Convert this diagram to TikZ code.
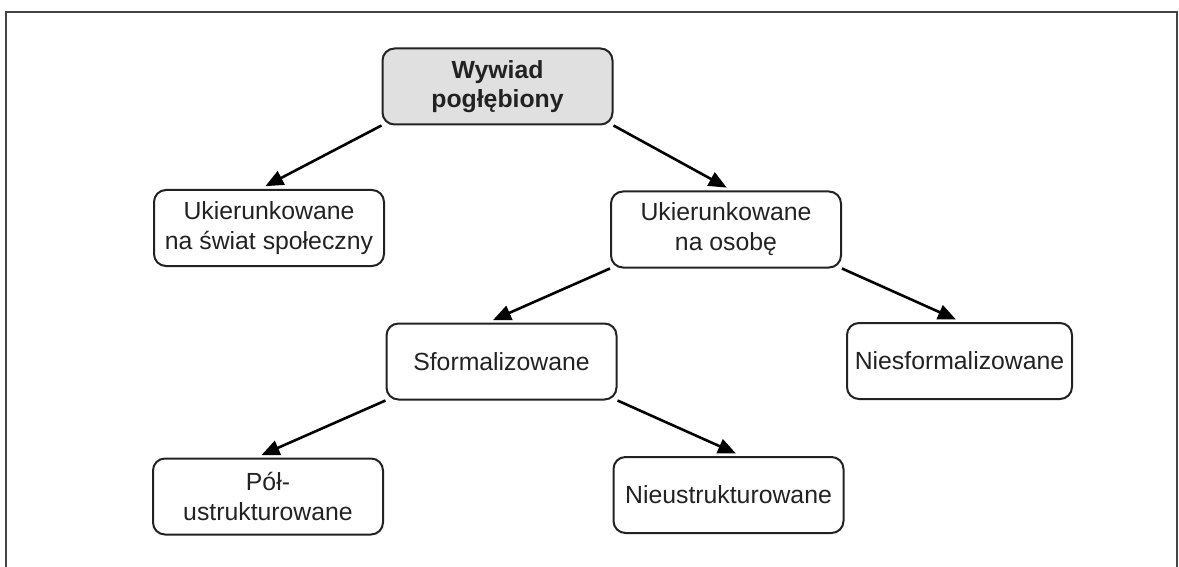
\documentclass[tikz,border=0pt]{standalone}
\usepackage{fontspec}
\setmainfont{Liberation Sans}
\usetikzlibrary{positioning,arrows.meta}
\definecolor{ink}{RGB}{34,34,34}
\definecolor{rootfill}{RGB}{224,224,224}
\definecolor{framecol}{RGB}{68,68,68}
\tikzset{
  box/.style={draw=ink,line width=1pt,rounded corners=6pt,minimum width=115pt,minimum height=38pt,align=center,text=ink,inner sep=2pt,font=\fontsize{12.4}{15}\selectfont},
  rootbox/.style={box,fill=rootfill,font=\fontsize{12.4}{14.5}\selectfont\bfseries},
  arr/.style={-{Triangle[length=9pt,width=7.5pt]},line width=1.3pt,draw=black,shorten >=3pt},
}

\begin{document}
\begin{tikzpicture}[x=0.5pt,y=-0.5pt]
  \useasboundingbox (0,0) rectangle (1179,567);
  \draw[framecol,line width=1pt] (6,567) -- (6,12) -- (1177,12) -- (1177,567);
  \node[rootbox] (root) at (497.5,86.5) {Wywiad\\pogłębiony};
  \node[box] (swiat) at (269,228) {Ukierunkowane\\na świat społeczny};
  \node[box] (osoba) at (726,229.5) {Ukierunkowane\\na osobę};
  \node[box] (sform) at (501.5,361.5) {Sformalizowane};
  \node[box,minimum width=112.5pt] (niesf) at (959.5,361) {Niesformalizowane};
  \node[box] (polu) at (268,496.5) {Pół-\\ustrukturowane};
  \node[box] (nieu) at (728.5,495) {Nieustrukturowane};
  \draw[arr] (root.south west) -- ([xshift=-4.5pt]swiat.north);
  \draw[arr] (root.south east) -- ([xshift=3pt]osoba.north);
  \draw[arr] (osoba.south west) -- ([xshift=-7pt]sform.north);
  \draw[arr] (osoba.south east) -- ([xshift=1pt]niesf.north);
  \draw[arr] (sform.south west) -- ([xshift=-6pt]polu.north);
  \draw[arr] (sform.south east) -- ([xshift=6.5pt]nieu.north);
\end{tikzpicture}
\end{document}
